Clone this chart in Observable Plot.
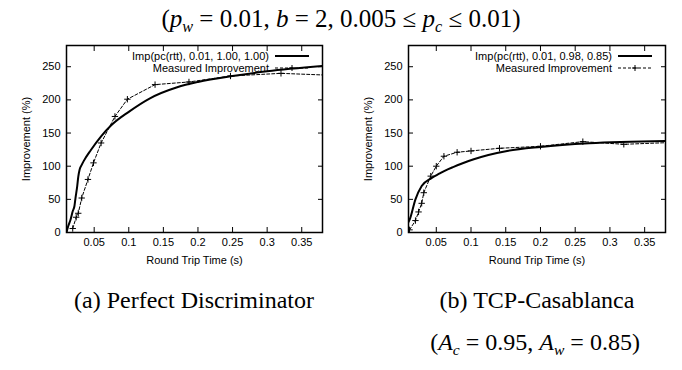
<!DOCTYPE html>
<html><head><meta charset="utf-8">
<script src="https://cdn.jsdelivr.net/npm/d3@7"></script>
<script src="https://cdn.jsdelivr.net/npm/@observablehq/plot@0.6"></script>
<style>
body{margin:0;background:#fff;width:682px;height:370px;position:relative;overflow:hidden}
.serif{font-family:"Liberation Serif","DejaVu Serif",serif;position:absolute;white-space:nowrap;text-align:center;color:#000;line-height:1}
#title{top:6px;left:0;width:682px;font-size:25px}
#capA{top:288px;left:44px;width:300px;font-size:24px}
#capB1{top:288px;left:387px;width:300px;font-size:24px}
#capB2{top:330px;left:385px;width:300px;font-size:24px}
.panel{position:absolute;top:35px}
.legend{position:absolute;top:0;left:0;overflow:visible}
sub{font-size:65%;vertical-align:-0.3em;line-height:0}
</style>
</head><body>
<div id="title" class="serif">(<i>p<sub>w</sub></i> = 0.01, <i>b</i> = 2, 0.005 ≤ <i>p<sub>c</sub></i> ≤ 0.01)</div>
<div id="panelA" class="panel" style="left:0px"></div>
<div id="panelB" class="panel" style="left:340px"></div>
<div id="capA" class="serif">(a) Perfect Discriminator</div>
<div id="capB1" class="serif">(b) TCP-Casablanca</div>
<div id="capB2" class="serif">(<i>A<sub>c</sub></i> = 0.95, <i>A<sub>w</sub></i> = 0.85)</div>
<script>
// ---- data ----
const xTicks = [0.05, 0.1, 0.15, 0.2, 0.25, 0.3, 0.35];
const yTicks = [0, 50, 100, 150, 200, 250];
const xDomain = [0.01, 0.38];
const yDomain = [0, 282];

// Panel (a): Perfect Discriminator
const rttModelA = [0.01, 0.012, 0.016, 0.019, 0.0215, 0.023, 0.0255, 0.027, 0.029, 0.032, 0.035, 0.045, 0.06, 0.075, 0.1, 0.13, 0.17, 0.2, 0.25, 0.3, 0.38];
const impModelA = [0, 8, 20, 32, 40, 52, 70, 84, 95, 102, 108, 124, 145, 162, 182, 202, 219, 227, 236, 243, 251];
const rttMeasA = [0.019, 0.024, 0.027, 0.032, 0.041, 0.049, 0.06, 0.08, 0.098, 0.138, 0.187, 0.247, 0.32, 0.42];
const impMeasA = [6, 23, 29, 52, 80, 105, 135, 175, 201, 223, 227, 236, 240, 236];
const legendA = "Imp(pc(rtt), 0.01, 1.00, 1.00)";

// Panel (b): TCP-Casablanca
const rttModelB = [0.01, 0.0115, 0.02, 0.029, 0.043, 0.055, 0.062, 0.075, 0.087, 0.104, 0.125, 0.152, 0.2, 0.27, 0.38];
const impModelB = [16, 19, 50, 70, 82, 89, 93, 99, 104, 110.5, 117, 123, 129, 134.5, 138];
const rttMeasB = [0.0115, 0.02, 0.0245, 0.029, 0.032, 0.042, 0.05, 0.061, 0.08, 0.1, 0.141, 0.2, 0.261, 0.32, 0.42];
const impMeasB = [4, 18, 31, 44, 60, 85, 100, 115, 121, 123, 127, 130, 137, 133, 137];
const legendB = "Imp(pc(rtt), 0.01, 0.98, 0.85)";

const legendMeas = "Measured Improvement";
const xLabel = "Round Trip Time (s)";
const yLabel = "Improvement (%)";

function panel(el, {rttModel, impModel, rttMeas, impMeas, legend, width, marginLeft, marginRight}) {
  const model = rttModel.map((x, i) => ({x, y: impModel[i]}));
  const meas = rttMeas.map((x, i) => ({x, y: impMeas[i]}));
  const marginTop = 10, height = 232;
  const chart = Plot.plot({
    width, height, marginLeft, marginRight, marginTop, marginBottom: 35,
    style: {fontFamily: "'Liberation Sans', Arial, sans-serif", fontSize: "11px", color: "#000", background: "transparent", overflow: "visible"},
    x: {domain: xDomain, label: null},
    y: {domain: yDomain, label: null},
    marks: [
      Plot.axisX({anchor: "bottom", ticks: xTicks, tickSize: 0, tickPadding: 6, tickFormat: d => String(d),
        label: xLabel, labelAnchor: "center", labelArrow: "none", labelOffset: 31}),
      Plot.axisX({anchor: "bottom", ticks: xTicks, tickSize: -5, text: null, label: null}),
      Plot.axisX({anchor: "top", ticks: xTicks, tickSize: -5, text: null, label: null}),
      Plot.axisY({anchor: "left", ticks: yTicks, tickSize: 0, tickPadding: 6,
        label: yLabel, labelAnchor: "center", labelArrow: "none", labelOffset: 44}),
      Plot.axisY({anchor: "left", ticks: yTicks, tickSize: -5, text: null, label: null}),
      Plot.axisY({anchor: "right", ticks: yTicks, tickSize: -5, text: null, label: null}),
      Plot.line(model, {x: "x", y: "y", curve: "monotone-x", stroke: "#000", strokeWidth: 2, clip: true}),
      Plot.line(meas, {x: "x", y: "y", stroke: "#000", strokeWidth: 1, strokeDasharray: "3,2", clip: true}),
      Plot.dot(meas, {x: "x", y: "y", symbol: "plus", r: 2.2, stroke: "#000", strokeWidth: 1, clip: true}),
      Plot.frame({stroke: "#000", strokeWidth: 1.5})
    ]
  });
  el.appendChild(chart);
  // legend (top-right inside the frame)
  const right = width - marginRight;
  const sEnd = right - 13, sStart = sEnd - 34, tEnd = sStart - 6;
  const svg = d3.select(el).append("svg").attr("class", "legend")
    .attr("width", width).attr("height", 60)
    .style("font-family", "'Liberation Sans', Arial, sans-serif").style("font-size", "11px");
  const rows = [{t: legend, y: 21, dash: null}, {t: legendMeas, y: 33, dash: "3,2"}];
  rows.forEach((r, i) => {
    svg.append("text").attr("x", tEnd).attr("y", r.y).attr("dy", "0.35em").attr("text-anchor", "end").text(r.t);
    svg.append("line").attr("x1", sStart).attr("x2", sEnd).attr("y1", r.y).attr("y2", r.y)
      .attr("stroke", "#000").attr("stroke-width", i === 0 ? 2 : 1).attr("stroke-dasharray", r.dash);
    if (i === 1) {
      const c = (sStart + sEnd) / 2;
      svg.append("path").attr("d", `M${c - 3},${r.y}H${c + 3}M${c},${r.y - 3}V${r.y + 3}`).attr("stroke", "#000");
    }
  });
}

panel(document.getElementById("panelA"), {rttModel: rttModelA, impModel: impModelA, rttMeas: rttMeasA, impMeas: impMeasA,
  legend: legendA, width: 340, marginLeft: 66, marginRight: 18});
panel(document.getElementById("panelB"), {rttModel: rttModelB, impModel: impModelB, rttMeas: rttMeasB, impMeas: impMeasB,
  legend: legendB, width: 342, marginLeft: 68, marginRight: 17});
</script>
</body></html>
